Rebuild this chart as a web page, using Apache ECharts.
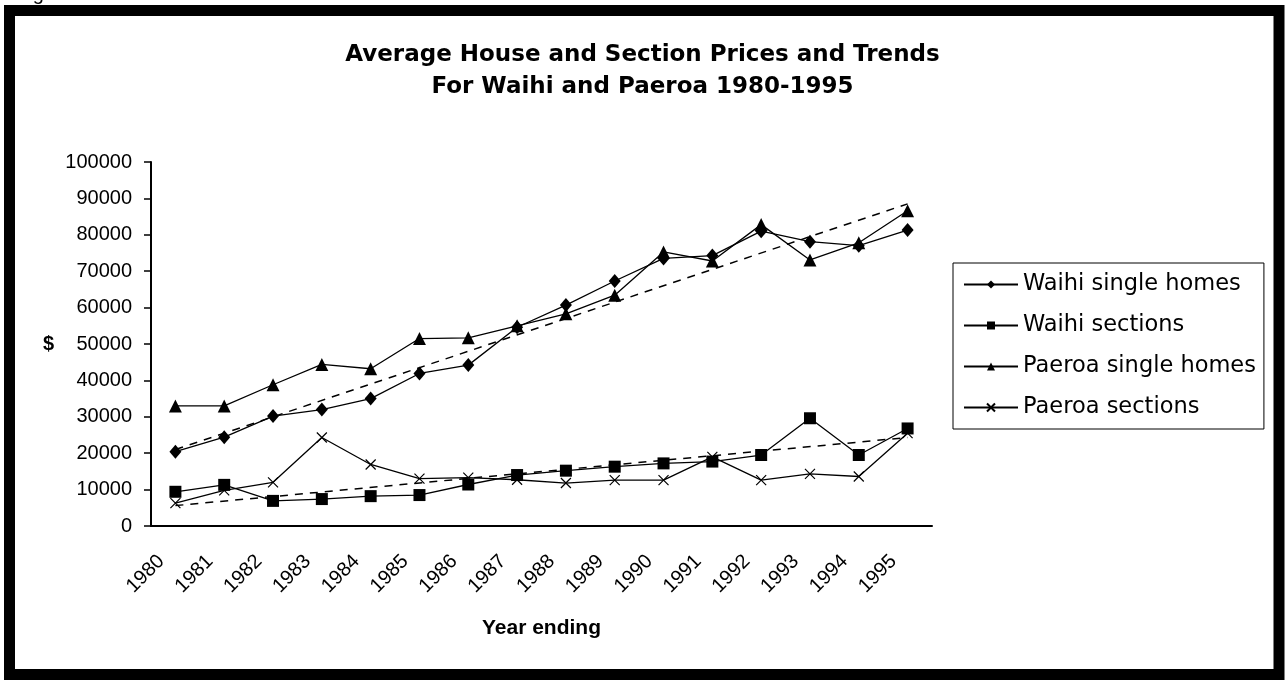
<!DOCTYPE html>
<html>
<head>
<meta charset="utf-8">
<script src="https://cdn.jsdelivr.net/npm/echarts@6/dist/echarts.min.js"></script>
<style>
  html, body { margin: 0; padding: 0; background: #fff; }
  #chart { width: 1285px; height: 680px; }
</style>
</head>
<body>
<div id="chart"></div>
<script>
// data
var years = ['1980', '1981', '1982', '1983', '1984', '1985', '1986', '1987',
  '1988', '1989', '1990', '1991', '1992', '1993', '1994', '1995'];
var waihiHomes = [20400, 24400, 30200, 32000, 35000, 41900, 44200, 54600,
  60700, 67300, 73500, 74300, 81000, 78100, 77000, 81300];
var waihiSections = [9400, 11300, 6900, 7400, 8200, 8500, 11400, 14000,
  15200, 16300, 17200, 17700, 19500, 29600, 19500, 26800];
var paeroaHomes = [33000, 33000, 38800, 44400, 43200, 51500, 51700, 55000,
  58300, 63400, 75300, 72800, 82800, 73100, 77800, 86600];
var paeroaSections = [6300, 9800, 12000, 24300, 16900, 13000, 13300, 12700,
  11800, 12600, 12600, 19000, 12600, 14300, 13600, 25500];
// trend lines (start / end as drawn)
var trendEnds = ['1980', '1995'];
var homesTrend = [21000, 88500];
var sectionsTrend = [5600, 24300];

var font = 'Liberation Sans, Arial, sans-serif';
var crossPath = 'path://M0,0L10,10M10,0L0,10';

function dataLine(name, values, symbol, size) {
  return {
    name: name,
    type: 'line',
    data: values,
    symbol: symbol,
    symbolSize: size,
    showSymbol: true,
    animation: false,
    z: 3,
    lineStyle: { color: '#000', width: 1.3 },
    itemStyle: { color: '#000', borderColor: '#000', borderWidth: 0 }
  };
}

function trendLine(name, ends) {
  return {
    name: name,
    type: 'line',
    data: [[trendEnds[0], ends[0]], [trendEnds[1], ends[1]]],
    symbol: 'none',
    animation: false,
    z: 2,
    lineStyle: { color: '#000', width: 1.5, type: [8, 7] }
  };
}

var sectionsX = dataLine('Paeroa sections', paeroaSections, crossPath, 10);
sectionsX.itemStyle = { color: 'rgba(0,0,0,0)', borderColor: '#000', borderWidth: 1.2 };

var myChart = echarts.init(document.getElementById('chart'));
var option = {
  backgroundColor: '#fff',
  animation: false,
  title: {
    text: 'Average House and Section Prices and Trends\nFor Waihi and Paeroa 1980-1995',
    left: 'center',
    top: 34,
    textStyle: { fontFamily: 'DejaVu Sans, sans-serif', fontSize: 23, fontWeight: 'bold', lineHeight: 32, color: '#000' }
  },
  grid: { left: 151, right: 353, top: 162, bottom: 154 },
  legend: {
    orient: 'vertical',
    left: 953,
    top: 263,
    data: ['Waihi single homes', 'Waihi sections', 'Paeroa single homes', 'Paeroa sections'],
    padding: [10, 8, 10, 10],
    itemGap: 18,
    itemWidth: 54,
    itemHeight: 10,
    borderColor: '#000',
    borderWidth: 1,
    textStyle: { fontFamily: 'DejaVu Sans, sans-serif', fontSize: 22.5, color: '#000' }
  },
  xAxis: {
    type: 'category',
    data: years,
    name: 'Year ending',
    nameLocation: 'middle',
    nameGap: 92,
    nameTextStyle: { fontFamily: font, fontSize: 21, fontWeight: 'bold', color: '#000' },
    axisLine: { lineStyle: { color: '#000', width: 2 } },
    axisTick: { length: 7, lineStyle: { color: '#000', width: 1.5 } },
    axisLabel: {
      rotate: 45,
      margin: 18,
      padding: [0, 20, 0, 0],
      interval: 0,
      fontFamily: font,
      fontSize: 20,
      color: '#000'
    },
    splitLine: { show: false }
  },
  yAxis: {
    type: 'value',
    min: 0,
    max: 100000,
    interval: 10000,
    name: '$',
    nameLocation: 'middle',
    nameRotate: 0,
    nameGap: 97,
    nameTextStyle: { fontFamily: font, fontSize: 20, fontWeight: 'bold', color: '#000' },
    axisLine: { show: true, lineStyle: { color: '#000', width: 2 } },
    axisTick: { show: true, length: 7, lineStyle: { color: '#000', width: 1.5 } },
    axisLabel: {
      margin: 19,
      fontFamily: font,
      fontSize: 20,
      color: '#000',
      formatter: function (v) { return String(v); }
    },
    splitLine: { show: false }
  },
  graphic: [
    {
      type: 'rect',
      shape: { x: 9.5, y: 10.5, width: 1269.5, height: 664 },
      style: { fill: 'none', stroke: '#000', lineWidth: 11 },
      silent: true
    },
    {
      type: 'text',
      x: 16,
      y: 4,
      style: { text: 'Figure', fontFamily: font, fontSize: 20, fill: '#000', textVerticalAlign: 'bottom' },
      silent: true
    }
  ],
  series: [
    trendLine('homes trend', homesTrend),
    trendLine('sections trend', sectionsTrend),
    dataLine('Waihi single homes', waihiHomes, 'diamond', [12, 14]),
    dataLine('Waihi sections', waihiSections, 'rect', 12),
    dataLine('Paeroa single homes', paeroaHomes, 'triangle', 13),
    sectionsX
  ]
};
myChart.setOption(option);
window.addEventListener('resize', function () {
  myChart.resize();
});
</script>
</body>
</html>
